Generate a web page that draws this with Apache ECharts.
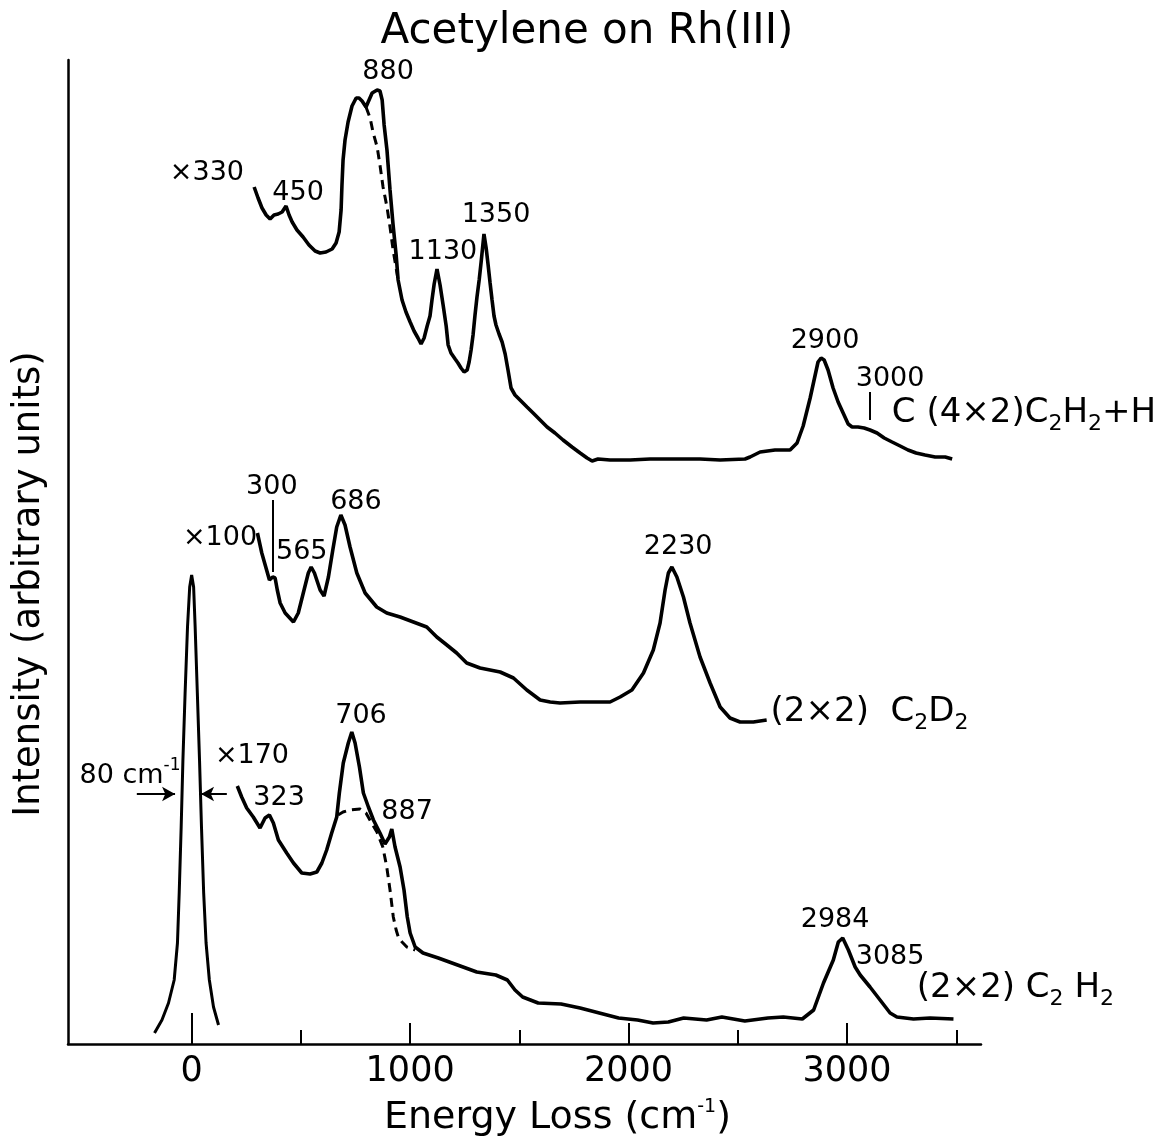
<!DOCTYPE html>
<html>
<head>
<meta charset="utf-8">
<script src="https://cdn.jsdelivr.net/npm/echarts@6/dist/echarts.min.js"></script>
<style>
html,body{margin:0;padding:0;background:#fff;}
#chart{width:1174px;height:1146px;}
</style>
</head>
<body>
<div id="chart"></div>
<script>
// ---- Data (x: energy loss in cm^-1, y: intensity in arbitrary units) ----
const majorTicks = [0, 1000, 2000, 3000];
const minorTicks = [500, 1500, 2500, 3500];

// C(4x2) C2H2 + H  (x330)
const traceC4x2 = [[286,857],[304,846],[322,836],[341,829],[359,825],[377,829],[396,830],[414,832],[432,838],[446,829],[460,822],[482,814],[510,807],[537,799],[565,793],[588,791],[615,792],[643,795],[661,801],[675,812],[684,834],[688,859],[693,884],[702,904],[716,922],[734,938],[753,946],[766,946],[780,943],[798,937],[812,944],[826,951],[849,954],[862,953],[872,944],[881,919],[894,894],[908,854],[922,819],[936,789],[945,764],[963,744],[981,732],[1000,722],[1018,713],[1036,706],[1050,700],[1064,706],[1078,718],[1091,728],[1100,744],[1110,760],[1123,775],[1137,759],[1151,739],[1165,718],[1174,699],[1187,691],[1206,685],[1219,681],[1233,676],[1247,672],[1261,674],[1270,682],[1279,694],[1288,709],[1297,729],[1306,747],[1316,764],[1325,782],[1338,810],[1348,796],[1357,779],[1366,761],[1375,744],[1384,728],[1393,719],[1407,710],[1421,702],[1435,690],[1448,674],[1462,656],[1480,649],[1503,644],[1535,637],[1563,631],[1595,624],[1627,617],[1663,611],[1700,604],[1741,597],[1778,591],[1810,586],[1833,583],[1860,585],[1915,584],[2007,584],[2098,585],[2236,585],[2327,585],[2419,584],[2533,585],[2556,587],[2602,592],[2670,594],[2739,594],[2771,601],[2799,618],[2831,646],[2854,669],[2867,682],[2881,686],[2895,684],[2913,674],[2936,656],[2959,642],[2982,631],[3005,620],[3023,617],[3050,617],[3078,616],[3105,614],[3137,611],[3170,606],[3206,602],[3243,598],[3279,594],[3316,591],[3357,589],[3403,587],[3449,587],[3481,585]];
const dashC4x2 = [[798,937],[817,926],[830,912],[849,897],[862,879],[876,857],[894,837],[908,817],[922,794],[945,764]];

// (2x2) C2D2  (x100)
const traceC2D2 = [[301,511],[321,491],[347,471],[356,464],[371,467],[382,466],[392,454],[405,441],[428,431],[466,422],[488,431],[511,451],[534,471],[547,477],[562,471],[588,454],[606,448],[626,467],[646,494],[664,517],[683,529],[702,519],[725,497],[756,471],[794,451],[847,437],[893,431],[954,427],[1015,422],[1076,417],[1122,407],[1168,399],[1213,391],[1259,381],[1320,376],[1412,372],[1473,366],[1534,354],[1595,344],[1641,342],[1686,341],[1778,342],[1915,342],[1961,347],[2015,354],[2068,371],[2113,394],[2144,421],[2167,454],[2182,471],[2198,477],[2221,467],[2251,447],[2281,421],[2327,387],[2373,361],[2419,337],[2464,326],[2510,322],[2571,322],[2632,324]];

// (2x2) C2H2  (x170)
const traceC2H2 = [[209,258],[229,247],[252,236],[282,227],[313,216],[336,226],[356,229],[374,221],[397,204],[435,191],[466,181],[504,171],[542,170],[573,172],[596,181],[618,194],[641,211],[664,227],[676,251],[694,281],[717,301],[733,312],[748,301],[768,277],[786,251],[809,237],[832,224],[862,211],[885,200],[905,207],[916,215],[931,197],[954,177],[972,154],[987,127],[1000,111],[1023,97],[1059,91],[1129,86],[1217,79],[1305,72],[1392,69],[1445,64],[1480,54],[1515,47],[1586,41],[1691,40],[1778,36],[1866,31],[1954,26],[2041,24],[2112,21],[2182,22],[2252,26],[2357,24],[2427,27],[2532,23],[2638,26],[2708,27],[2795,25],[2847,34],[2892,61],[2937,84],[2960,102],[2980,106],[3006,94],[3037,77],[3060,69],[3105,57],[3151,44],[3197,31],[3228,27],[3304,25],[3380,26],[3487,25]];
const dashC2H2 = [[670,229],[693,232],[725,234],[771,235],[798,231],[821,222],[848,212],[875,197],[893,177],[908,154],[923,127],[936,114],[946,107],[963,102],[985,97],[1023,94]];

// Elastic peak
const traceElastic = [[-170,11],[-136,24],[-106,41],[-80,64],[-65,101],[-57,151],[-48,217],[-40,284],[-30,351],[-19,417],[-9,457],[0,469],[9,457],[16,417],[26,351],[36,284],[45,217],[55,151],[66,101],[81,64],[100,37],[123,19]];

// Peak annotations: [text, x, y]
const peakLabels = [
  ["880", 899, 972], ["×330", 70, 871], ["450", 487, 851], ["1350", 1393, 829], ["1130", 1150, 792],
  ["2900", 2899, 703], ["3000", 3197, 665],
  ["300", 367, 557], ["×100", 130, 506], ["565", 504, 492], ["686", 752, 542], ["2230", 2227, 497],
  ["706", 775, 328], ["×170", 276, 288], ["323", 400, 246], ["887", 986, 232],
  ["2984", 2945, 124], ["3085", 3197, 87]
];
// Spectrum names: [text, x(left edge), y]
const traceNames = [
  ["C (4×2)C{s|2}H{s|2}+H", 3205, 631],
  ["(2×2)  C{s|2}D{s|2}", 2650, 332],
  ["(2×2) C{s|2} H{s|2}", 3319, 56]
];
const widthLabel = ["80 cm{p|-1}", -282, 268];
// Marker segments: [[x1,y1],[x2,y2]]
const markerLines = [[[369,544],[369,472]], [[3102,652],[3102,624]], [[0,0],[0,31]]];
const widthArrows = [[[-251,250],[-76,250]], [[161,250],[43,250]]];

const FONT = 'DejaVu Sans';
const INK = '#000000';
const chart = echarts.init(document.getElementById('chart'), null, {renderer: 'canvas'});

function traceSeries(data, dashed, width) {
  return {
    type: 'line', data: data, symbol: 'none', showSymbol: false, silent: true,
    lineStyle: {color: INK, width: width || 3.6, type: dashed ? [9, 6] : 'solid', opacity: 1},
    z: 3
  };
}
const richSub = {
  s: {fontSize: 22, fontFamily: FONT, color: INK, padding: [22, 0, 0, 0]},
  p: {fontSize: 17, fontFamily: FONT, color: INK, padding: [0, 0, 20, 0]}
};
function textItem(l, size) {
  return {value: [l[1], l[2]], label: {formatter: l[0], color: INK, opacity: 1, fontSize: size, fontFamily: FONT, rich: richSub}};
}
function textSeries(items, size, position) {
  return {
    type: 'scatter', silent: true, symbolSize: 0, z: 5,
    itemStyle: {opacity: 1},
    data: items.map(l => textItem(l, size)),
    label: {show: true, position: position, distance: 0, opacity: 1}
  };
}

const option = {
  backgroundColor: '#fff',
  animation: false,
  title: {
    text: 'Acetylene on Rh(III)', left: 'center', top: 6,
    textStyle: {fontFamily: FONT, fontSize: 42, fontWeight: 'normal', color: INK}
  },
  grid: {left: 68, right: 193, top: 60, bottom: 102},
  xAxis: [{
    type: 'value', min: -566, max: 3613, position: 'bottom',
    axisLine: {onZero: false, lineStyle: {color: INK, width: 2.5}},
    axisTick: {inside: true, length: 21, customValues: majorTicks, lineStyle: {color: INK, width: 2}},
    axisLabel: {customValues: majorTicks, formatter: v => String(v), color: INK, fontSize: 35, fontFamily: FONT, margin: 10},
    splitLine: {show: false},
    name: 'Energy Loss (cm{p|-1})', nameLocation: 'middle', nameGap: 54,
    nameTextStyle: {fontFamily: FONT, fontSize: 38, color: INK, padding: [0, 0, 0, 66],
      rich: {p: {fontSize: 19, fontFamily: FONT, color: INK, padding: [0, 0, 22, 0]}}}
  }, {
    type: 'value', min: -566, max: 3613, position: 'bottom',
    axisLine: {show: false, onZero: false},
    axisTick: {inside: true, length: 14, customValues: minorTicks, lineStyle: {color: INK, width: 2}},
    axisLabel: {show: false}, splitLine: {show: false}
  }],
  yAxis: {
    type: 'value', min: 0, max: 984,
    axisLine: {show: true, onZero: false, lineStyle: {color: INK, width: 2.5}},
    axisTick: {show: false}, axisLabel: {show: false}, splitLine: {show: false},
    name: 'Intensity (arbitrary units)', nameLocation: 'middle', nameRotate: 90, nameGap: 20,
    nameTextStyle: {fontFamily: FONT, fontSize: 37, color: INK, padding: [0, 64, 0, 0]}
  },
  series: [
    traceSeries(traceC4x2),
    traceSeries(dashC4x2, true, 3),
    traceSeries(traceC2D2),
    traceSeries(traceC2H2),
    traceSeries(dashC2H2, true, 3),
    traceSeries(traceElastic, false, 3),
    textSeries(peakLabels, 27, 'inside'),
    textSeries(traceNames, 34, 'right'),
    textSeries([widthLabel], 27, 'inside'),
    {
      type: 'line', data: [], silent: true,
      markLine: {
        silent: true, symbol: ['none', 'none'], animation: false,
        label: {show: false},
        lineStyle: {color: INK, width: 2, type: 'solid', opacity: 1},
        data: markerLines.map(s => [{coord: s[0]}, {coord: s[1]}])
      }
    },
    {
      type: 'line', data: [], silent: true,
      markLine: {
        silent: true, symbol: ['none', 'arrow'], symbolSize: [11, 13], animation: false,
        label: {show: false},
        lineStyle: {color: INK, width: 2, type: 'solid', opacity: 1},
        data: widthArrows.map(s => [{coord: s[0]}, {coord: s[1]}])
      }
    }
  ]
};
chart.setOption(option);
</script>
</body>
</html>
